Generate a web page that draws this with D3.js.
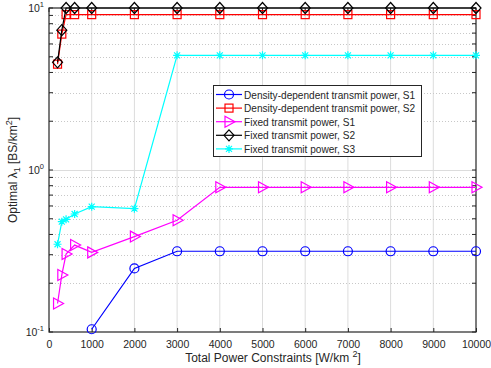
<!DOCTYPE html>
<html>
<head>
<meta charset="utf-8">
<script src="https://cdn.jsdelivr.net/npm/d3@7"></script>
<style>
  body { margin: 0; background: #fff; }
  text { font-family: "Liberation Sans", Arial, sans-serif; fill: #262626; }
</style>
</head>
<body>
<div id="chart"></div>
<script>
// Optimal BS density vs total power constraint

// x positions (W/km^2)
const powers = [200, 300, 400, 600, 1000, 2000, 3000, 4000, 5000, 6000, 7000, 8000, 9000, 10000];

// series values (null = below the axis, not drawn)
const densS1 = [null, null, null, null, 0.104, 0.247, 0.315, 0.315, 0.315, 0.315, 0.315, 0.315, 0.315, 0.315];
const densS2 = [4.5, 6.9, 9.1, 9.1, 9.1, 9.1, 9.1, 9.1, 9.1, 9.1, 9.1, 9.1, 9.1, 9.1];
const fixedS1 = [0.150, 0.225, 0.303, 0.344, 0.31, 0.388, 0.489, 0.782, 0.782, 0.782, 0.782, 0.782, 0.782, 0.782];
const fixedS2 = [4.62, 7.3, 10, 10, 10, 10, 10, 10, 10, 10, 10, 10, 10, 10];
const fixedS3 = [0.348, 0.48, 0.496, 0.535, 0.594, 0.577, 5.1, 5.1, 5.1, 5.1, 5.1, 5.1, 5.1, 5.1];

const seriesNames = [
  "Density-dependent transmit power, S1",
  "Density-dependent transmit power, S2",
  "Fixed transmit power, S1",
  "Fixed transmit power, S2",
  "Fixed transmit power, S3"
];

const xTicks = [0, 1000, 2000, 3000, 4000, 5000, 6000, 7000, 8000, 9000, 10000];

const W = 491, H = 368;
const mLeft = 49, mRight = 476, mTop = 8, mBottom = 332;

const svg = d3.select("#chart").append("svg")
  .attr("width", W)
  .attr("height", H);

const x = d3.scaleLinear().domain([0, 10000]).range([mLeft, mRight]);
const y = d3.scaleLog().domain([0.1, 10]).range([mBottom, mTop]);

// minor/major y values for grid and ticks
const yMinor = [];
[0.1, 1].forEach(base => {
  for (let k = 2; k <= 9; k++) yMinor.push(base * k);
});
const yMajor = [0.1, 1, 10];

// grid
const grid = svg.append("g");
grid.selectAll(".xg").data(xTicks.slice(1, -1)).enter().append("line")
  .attr("x1", d => x(d)).attr("x2", d => x(d))
  .attr("y1", mTop).attr("y2", mBottom)
  .attr("stroke", "#dcdcdc").attr("stroke-width", 1);
grid.selectAll(".ymin").data(yMinor).enter().append("line")
  .attr("x1", mLeft).attr("x2", mRight)
  .attr("y1", d => Math.round(y(d)) + 0.5).attr("y2", d => Math.round(y(d)) + 0.5)
  .attr("stroke", "#c8c8c8").attr("stroke-width", 1)
  .attr("stroke-dasharray", "1,2");
grid.append("line")
  .attr("x1", mLeft).attr("x2", mRight)
  .attr("y1", Math.round(y(1)) + 0.5).attr("y2", Math.round(y(1)) + 0.5)
  .attr("stroke", "#dcdcdc");

// axes box
svg.append("rect")
  .attr("x", mLeft).attr("y", mTop)
  .attr("width", mRight - mLeft).attr("height", mBottom - mTop)
  .attr("fill", "none").attr("stroke", "#262626").attr("stroke-width", 1.2);

// x axis with inward ticks
const xAxis = d3.axisBottom(x).tickValues(xTicks).tickSize(-4).tickPadding(9).tickFormat(d3.format("d"));
const gx = svg.append("g").attr("transform", `translate(0,${mBottom})`).call(xAxis);
gx.select(".domain").remove();
gx.selectAll(".tick line").attr("stroke", "#262626");
gx.selectAll("text").style("font-size", "10.5px").attr("fill", "#262626");
// top ticks
svg.selectAll(".xtop").data(xTicks).enter().append("line")
  .attr("x1", d => x(d)).attr("x2", d => x(d))
  .attr("y1", mTop).attr("y2", mTop + 4).attr("stroke", "#262626");

// y ticks (left and right, inward)
const allY = yMajor.concat(yMinor);
svg.selectAll(".ytl").data(allY).enter().append("line")
  .attr("x1", mLeft).attr("x2", mLeft + 4)
  .attr("y1", d => y(d)).attr("y2", d => y(d)).attr("stroke", "#262626");
svg.selectAll(".ytr").data(allY).enter().append("line")
  .attr("x1", mRight).attr("x2", mRight - 4)
  .attr("y1", d => y(d)).attr("y2", d => y(d)).attr("stroke", "#262626");

// y tick labels as 10^n
const yl = svg.selectAll(".ylab").data(yMajor).enter().append("text")
  .attr("x", mLeft - 5)
  .attr("y", d => y(d) + 4)
  .attr("text-anchor", "end")
  .style("font-size", "10.5px");
yl.append("tspan").text("10");
yl.append("tspan").attr("dy", -5).style("font-size", "7.5px").text(d => Math.round(Math.log10(d)));

// axis labels
const xl = svg.append("text")
  .attr("x", 273).attr("y", 362)
  .attr("text-anchor", "middle")
  .style("font-size", "12px");
xl.append("tspan").text("Total Power Constraints [W/km ");
xl.append("tspan").attr("dy", -5).style("font-size", "9px").text("2");
xl.append("tspan").attr("dy", 5).text("]");

const ylab = svg.append("text")
  .attr("transform", `translate(17,${(mTop + mBottom) / 2}) rotate(-90)`)
  .attr("text-anchor", "middle")
  .style("font-size", "12px");
ylab.append("tspan").text("Optimal  λ");
ylab.append("tspan").attr("dy", 3).style("font-size", "9px").text("1");
ylab.append("tspan").attr("dy", -3).text(" [BS/km");
ylab.append("tspan").attr("dy", -5).style("font-size", "9px").text("2");
ylab.append("tspan").attr("dy", 5).text("]");

// marker drawing
function marker(g, type, color) {
  if (type === "circle") {
    g.append("circle").attr("r", 4.5).attr("fill", "none").attr("stroke", color).attr("stroke-width", 1.2);
  } else if (type === "square") {
    g.append("rect").attr("x", -4).attr("y", -4).attr("width", 8).attr("height", 8)
      .attr("fill", "none").attr("stroke", color).attr("stroke-width", 1.2);
  } else if (type === "triangle") {
    g.append("path").attr("d", "M-4,-5.5L6,0L-4,5.5Z")
      .attr("fill", "none").attr("stroke", color).attr("stroke-width", 1.2);
  } else if (type === "diamond") {
    g.append("path").attr("d", "M0,-5.5L5,0L0,5.5L-5,0Z")
      .attr("fill", "none").attr("stroke", color).attr("stroke-width", 1.2);
  } else if (type === "star") {
    g.append("path").attr("d", "M-4,0L4,0M0,-4L0,4M-3,-3L3,3M-3,3L3,-3")
      .attr("fill", "none").attr("stroke", color).attr("stroke-width", 1.2);
  }
}

const series = [
  { values: densS1, color: "#0000ff", marker: "circle" },
  { values: densS2, color: "#ff0000", marker: "square" },
  { values: fixedS1, color: "#ff00ff", marker: "triangle" },
  { values: fixedS2, color: "#000000", marker: "diamond" },
  { values: fixedS3, color: "#00ffff", marker: "star" }
];

const line = d3.line()
  .defined(d => d.v != null)
  .x(d => x(d.p))
  .y(d => y(d.v));

series.forEach(s => {
  const pts = powers.map((p, i) => ({ p: p, v: s.values[i] }));
  svg.append("path")
    .datum(pts)
    .attr("d", line)
    .attr("fill", "none")
    .attr("stroke", s.color)
    .attr("stroke-width", 1.2);
  svg.selectAll(null).data(pts.filter(d => d.v != null)).enter().append("g")
    .attr("transform", d => `translate(${x(d.p)},${y(d.v)})`)
    .each(function () { marker(d3.select(this), s.marker, s.color); });
});

// legend
const lg = svg.append("g");
lg.append("rect")
  .attr("x", 213.5).attr("y", 85.5).attr("width", 208).attr("height", 71)
  .attr("fill", "#fff").attr("stroke", "#262626").attr("stroke-width", 1);
series.forEach((s, i) => {
  const ly = 94.5 + i * 13.6;
  lg.append("line")
    .attr("x1", 216).attr("x2", 242).attr("y1", ly).attr("y2", ly)
    .attr("stroke", s.color).attr("stroke-width", 1.2);
  marker(lg.append("g").attr("transform", `translate(229,${ly})`), s.marker, s.color);
  lg.append("text")
    .attr("x", 244).attr("y", ly + 4)
    .style("font-size", "10.1px")
    .text(seriesNames[i]);
});
</script>
</body>
</html>
